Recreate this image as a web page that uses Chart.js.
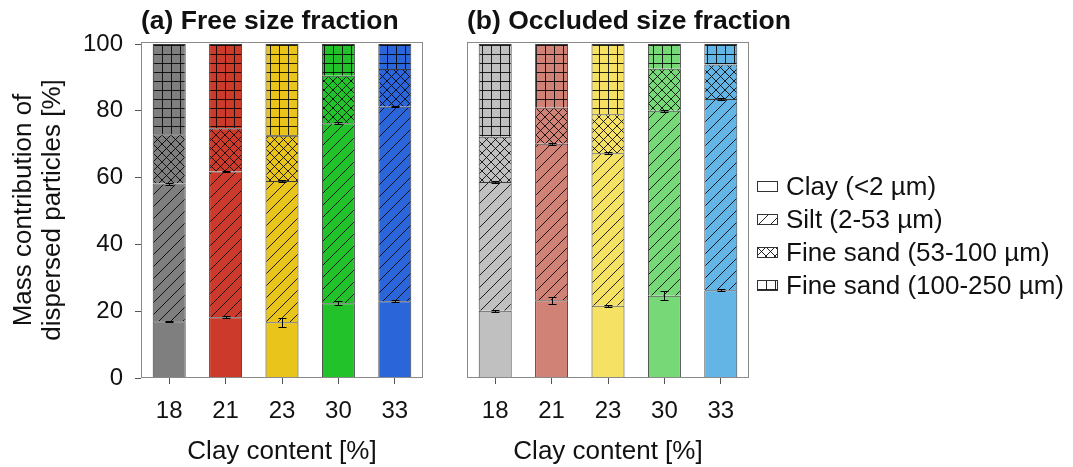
<!DOCTYPE html>
<html lang="en">
<head>
<meta charset="UTF-8">
<title>Dispersed particles</title>
<script src="https://cdn.jsdelivr.net/npm/chart.js"></script>
<style>
  body { margin: 0; background: #fff; font-family: 'Liberation Sans', Arial, sans-serif; }
  #wrap { position: relative; width: 1073px; height: 467px; }
  #chartA { position: absolute; left: 0; top: 0; }
  #chartB { position: absolute; left: 455px; top: 0; }
  #legend { position: absolute; left: 757px; top: 170px; }
  .item { display: flex; align-items: center; height: 33px; font-size: 26px; color: #111; white-space: nowrap; }
  .item canvas { margin-right: 8px; }
</style>
</head>
<body>
<div id="wrap">
  <canvas id="chartA" width="435" height="467"></canvas>
  <canvas id="chartB" width="345" height="467"></canvas>
  <div id="legend"></div>
</div>
<script>
const clayContent = ['18', '21', '23', '30', '33'];
const fractions = ['Clay (<2 µm)', 'Silt (2-53 µm)', 'Fine sand (53-100 µm)', 'Fine sand (100-250 µm)'];
const yTicks = [0, 20, 40, 60, 80, 100];

// (a) free size fraction, % per size class
const freeClay  = [17.0, 18.2, 16.7, 22.4, 23.0];
const freeSilt  = [41.2, 43.6, 42.3, 53.9, 58.2];
const freeFs1   = [14.8, 13.0, 13.5, 14.2, 11.3];
const freeFs2   = [27.0, 25.2, 27.5,  9.5,  7.5];
const freeClayErr = [0.1, 0.3, 1.3, 0.6, 0.3];
const freeSiltErr = [0.3, 0.2, 0.4, 0.2, 0.2];

// (b) occluded size fraction
const occClay  = [20.1, 23.3, 21.6, 24.6, 26.3];
const occSilt  = [38.6, 46.8, 45.7, 55.4, 57.2];
const occFs1   = [13.5, 10.8, 11.7, 12.6, 10.4];
const occFs2   = [27.8, 19.1, 21.0,  7.4,  6.1];
const occClayErr = [0.3, 1.0, 0.3, 1.3, 0.3];
const occSiltErr = [0.3, 0.2, 0.3, 0.3, 0.2];

const freeColors = ['#7f7f7f', '#cc3a2c', '#e9c51b', '#22c32a', '#2a66da'];
const occColors  = ['#c0c0c0', '#d08277', '#f5e264', '#76d876', '#62b5e5'];
const kinds = ['none', 'silt', 'cross', 'grid'];

function makePattern(color, kind) {
    if (kind === 'none') return color;
    const size = kind === 'silt' ? 12 : 9;
    const c = document.createElement('canvas');
    c.width = size; c.height = size;
    const g = c.getContext('2d');
    g.fillStyle = color;
    g.fillRect(0, 0, size, size);
    g.strokeStyle = 'rgba(0,0,0,0.85)';
    g.lineWidth = 1;
    g.beginPath();
    if (kind === 'silt') {
        g.moveTo(0, size); g.lineTo(size, 0);
    } else if (kind === 'cross') {
        g.moveTo(0, 0); g.lineTo(size, size);
        g.moveTo(0, size); g.lineTo(size, 0);
    } else if (kind === 'grid') {
        g.moveTo(0, 0.5); g.lineTo(size, 0.5);
        g.moveTo(0.5, 0); g.lineTo(0.5, size);
    }
    g.stroke();
    return g.createPattern(c, 'repeat');
}

// box round the plot area + panel title (title may run past the plot width)
const framePlugin = {
    id: 'frame',
    afterDatasetsDraw(chart, args, opts) {
        const { ctx, chartArea: a } = chart;
        ctx.save();
        ctx.strokeStyle = '#8a8a8a';
        ctx.lineWidth = 1;
        ctx.strokeRect(Math.round(a.left) + 0.5, Math.round(a.top) + 0.5,
                       Math.round(a.width) - 1, Math.round(a.height) - 1);
        ctx.fillStyle = '#111';
        ctx.font = "bold 26.5px 'Liberation Sans', Arial, sans-serif";
        ctx.textBaseline = 'middle';
        ctx.textAlign = 'left';
        ctx.fillText(opts.text, a.left, 22);
        ctx.restore();
    }
};

const errorPlugin = {
    id: 'errors',
    afterDatasetsDraw(chart, args, opts) {
        const { ctx, scales: { y } } = chart;
        const meta = chart.getDatasetMeta(0);
        ctx.save();
        ctx.strokeStyle = '#000';
        ctx.lineWidth = 1;
        opts.bars.forEach(([tops, errs]) => {
            tops.forEach((t, i) => {
                const cx = Math.round(meta.data[i].x) + 0.5;
                const y1 = Math.round(y.getPixelForValue(t + errs[i])) + 0.5;
                const y2 = Math.round(y.getPixelForValue(t - errs[i])) + 0.5;
                ctx.beginPath();
                ctx.moveTo(cx, y1); ctx.lineTo(cx, y2);
                ctx.moveTo(cx - 4, y1); ctx.lineTo(cx + 4, y1);
                ctx.moveTo(cx - 4, y2); ctx.lineTo(cx + 4, y2);
                ctx.stroke();
            });
        });
        ctx.restore();
    }
};

function makeChart(id, title, colors, series, errBars, withY, padRight) {
    const datasets = series.map((vals, k) => ({
        label: fractions[k],
        data: vals,
        backgroundColor: colors.map(c => makePattern(c, kinds[k])),
        borderColor: '#3a3a3a',
        borderWidth: 1,
        categoryPercentage: 1,
        barPercentage: 0.585
    }));
    return new Chart(document.getElementById(id), {
        type: 'bar',
        data: { labels: clayContent, datasets: datasets },
        plugins: [framePlugin, errorPlugin],
        options: {
            responsive: false,
            animation: false,
            layout: { padding: { left: 0, right: padRight, top: 42, bottom: 0 } },
            plugins: {
                legend: { display: false },
                tooltip: { enabled: false },
                title: { display: false },
                frame: { text: title },
                errors: { bars: errBars }
            },
            scales: {
                x: {
                    stacked: true,
                    afterFit: s => { s.height = 89; },
                    border: { display: false },
                    grid: { drawOnChartArea: false, offset: false, tickLength: 6, color: '#555' },
                    ticks: { font: { size: 24 }, color: '#111', padding: 13 },
                    title: { display: true, text: 'Clay content [%]', color: '#111', font: { size: 26, lineHeight: 1.15 }, padding: { top: 8, bottom: 0 } }
                },
                y: {
                    stacked: true,
                    min: 0, max: 100.6,
                    afterBuildTicks: s => { s.ticks = yTicks.map(v => ({ value: v })); },
                    afterFit: s => { s.width = withY ? 141 : 12; },
                    border: { display: false },
                    grid: { drawOnChartArea: false, drawTicks: withY, tickLength: 6, color: '#555' },
                    ticks: { display: withY, font: { size: 24 }, color: '#111', padding: 12 },
                    title: {
                        display: withY, text: ['Mass contribution of', 'dispersed particles [%]'],
                        color: '#111', font: { size: 26, lineHeight: 1.12 }, padding: { top: 9, bottom: 0 }
                    }
                }
            }
        }
    });
}

function cumulative(a, b) { return a.map((v, i) => v + b[i]); }

makeChart('chartA', '(a) Free size fraction', freeColors,
    [freeClay, freeSilt, freeFs1, freeFs2],
    [[freeClay, freeClayErr], [cumulative(freeClay, freeSilt), freeSiltErr]], true, 12);

makeChart('chartB', '(b) Occluded size fraction', occColors,
    [occClay, occSilt, occFs1, occFs2],
    [[occClay, occClayErr], [cumulative(occClay, occSilt), occSiltErr]], false, 51);

// legend with pattern swatches
const legend = document.getElementById('legend');
fractions.forEach((name, k) => {
    const row = document.createElement('div');
    row.className = 'item';
    const sw = document.createElement('canvas');
    sw.width = 21; sw.height = 11;
    const g = sw.getContext('2d');
    g.fillStyle = makePattern('#ffffff', kinds[k]);
    g.fillRect(0, 0, 21, 11);
    g.strokeStyle = '#333';
    g.strokeRect(0.5, 0.5, 20, 10);
    row.appendChild(sw);
    row.appendChild(document.createTextNode(name));
    legend.appendChild(row);
});
</script>
</body>
</html>
